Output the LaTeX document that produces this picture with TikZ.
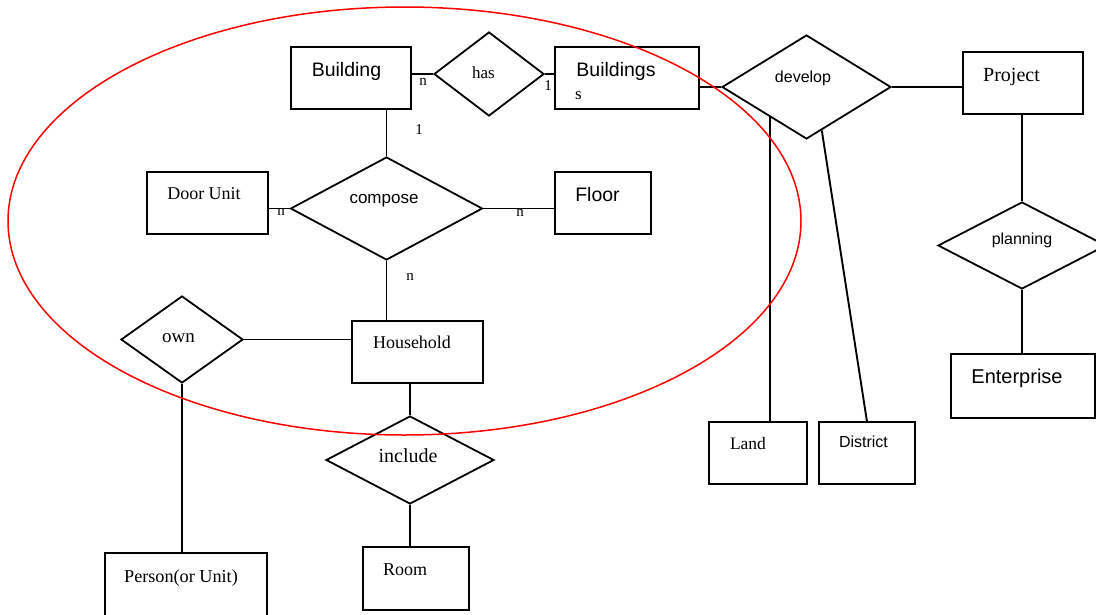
\documentclass[tikz,border=0pt]{standalone}
\usepackage{fontspec}
\setmainfont{Liberation Serif}
\setsansfont{Liberation Sans}
\usetikzlibrary{shapes.geometric,calc}
\tikzset{
  ent/.style={draw, line width=1.8pt, rectangle, inner sep=0pt, anchor=north west},
  rel/.style={draw, line width=1.8pt, diamond, inner sep=0pt},
  conn/.style={line width=1.9pt},
  ser/.style={font=\rmfamily\fontsize{#1}{#1}\selectfont, anchor=base, inner sep=0pt},
  san/.style={font=\sffamily\fontsize{#1}{#1}\selectfont, anchor=base, inner sep=0pt},
}
\begin{document}
\begin{tikzpicture}[x=1pt,y=-1pt]
\useasboundingbox (0,0) rectangle (1096,614);
% entities
\node[ent, minimum width=120, minimum height=62] (building) at (290,46) {};
\node[ent, minimum width=144, minimum height=62] (buildings) at (554,46) {};
\node[ent, minimum width=121, minimum height=62] (door) at (146,171) {};
\node[ent, minimum width=96, minimum height=62] (floor) at (554,171) {};
\node[ent, minimum width=131, minimum height=62] (household) at (351,320) {};
\node[ent, minimum width=162, minimum height=70] (person) at (104,552) {};
\node[ent, minimum width=106, minimum height=63] (room) at (362,546) {};
\node[ent, minimum width=120, minimum height=62] (project) at (962,51) {};
\node[ent, minimum width=144, minimum height=64] (enterprise) at (950,353) {};
\node[ent, minimum width=98, minimum height=62] (land) at (708,421) {};
\node[ent, minimum width=96, minimum height=62] (district) at (818,421) {};
% relationships
\node[rel, minimum width=110, minimum height=84] (has) at (489,74) {};
\node[rel, minimum width=192, minimum height=103] (compose) at (386.5,208.5) {};
\node[rel, minimum width=122, minimum height=87] (own) at (182,339.5) {};
\node[rel, minimum width=168, minimum height=88] (include) at (410,460) {};
\node[rel, minimum width=169, minimum height=104] (develop) at (806.5,87) {};
\node[rel, minimum width=168, minimum height=87] (planning) at (1022,245.5) {};
% texts
\node[san=19.5] (tBuilding) at (346.5,76) {Building};
\node[san=19.5] (tBuildings) at (616,76) {Buildings};
\node[ser=17] (tS) at (578.5,99) {s};
\node[ser=17] (tHas) at (483.5,78) {has};
\node[ser=15] (n1) at (423,85) {n};
\node[ser=15] (o1) at (548,90) {1};
\node[ser=15] (o2) at (419,134) {1};
\node[san=17] (tCompose) at (384,203) {compose};
\node[ser=18] (tDoor) at (204,199) {Door Unit};
\node[ser=15] (n2) at (281,215) {n};
\node[san=19.5] (tFloor) at (597.5,201) {Floor};
\node[ser=15] (n3) at (520,216) {n};
\node[ser=15] (n4) at (410,280) {n};
\node[ser=19] (tOwn) at (178.5,342) {own};
\node[ser=18] (tHousehold) at (412,348) {Household};
\node[ser=20] (tInclude) at (408,462) {include};
\node[ser=18] (tRoom) at (405,575) {Room};
\node[ser=18.2] (tPerson) at (181,582) {Person(or Unit)};
\node[san=16] (tDevelop) at (803,82) {develop};
\node[ser=20] (tProject) at (1011.5,81) {Project};
\node[san=16] (tPlanning) at (1022,244) {planning};
\node[san=20] (tEnterprise) at (1017,383) {Enterprise};
\node[ser=17.5] (tLand) at (748,449) {Land};
\node[san=16] (tDistrict) at (863.5,447) {District};
% connectors
\draw[conn] (has.west) -- (has.west -| building.east);
\draw[conn] (has.east) -- (has.east -| buildings.west);
\draw[conn] (develop.west) -- (develop.west -| buildings.east);
\draw[conn] (compose.north) -- (compose.north |- building.south);
\draw[conn] (compose.west) -- (compose.west -| door.east);
\draw[conn] (compose.east) -- (compose.east -| floor.west);
\draw[conn] (compose.south) -- (compose.south |- household.north);
\draw[conn] (own.east) -- (own.east -| household.west);
\draw[conn] (own.south) -- (own.south |- person.north);
\draw[conn] (include.north) -- (include.north |- household.south);
\draw[conn] (include.south) -- (include.south |- room.north);
\draw[conn] (develop.east) -- (develop.east -| project.west);
\draw[conn] (planning.north) -- (planning.north |- project.south);
\draw[conn] (planning.south) -- (planning.south |- enterprise.north);
\coordinate (dl) at ($(develop.west)!0.576!(develop.south)$);
\draw[conn] (dl) -- (dl |- land.north);
\coordinate (dr) at ($(develop.south)!0.179!(develop.east)$);
\draw[conn] (dr) -- (district.north);
% highlight ellipse
\draw[red, line width=1.5pt] (404.5,221) ellipse [x radius=396.5, y radius=214];
\end{tikzpicture}
\end{document}
